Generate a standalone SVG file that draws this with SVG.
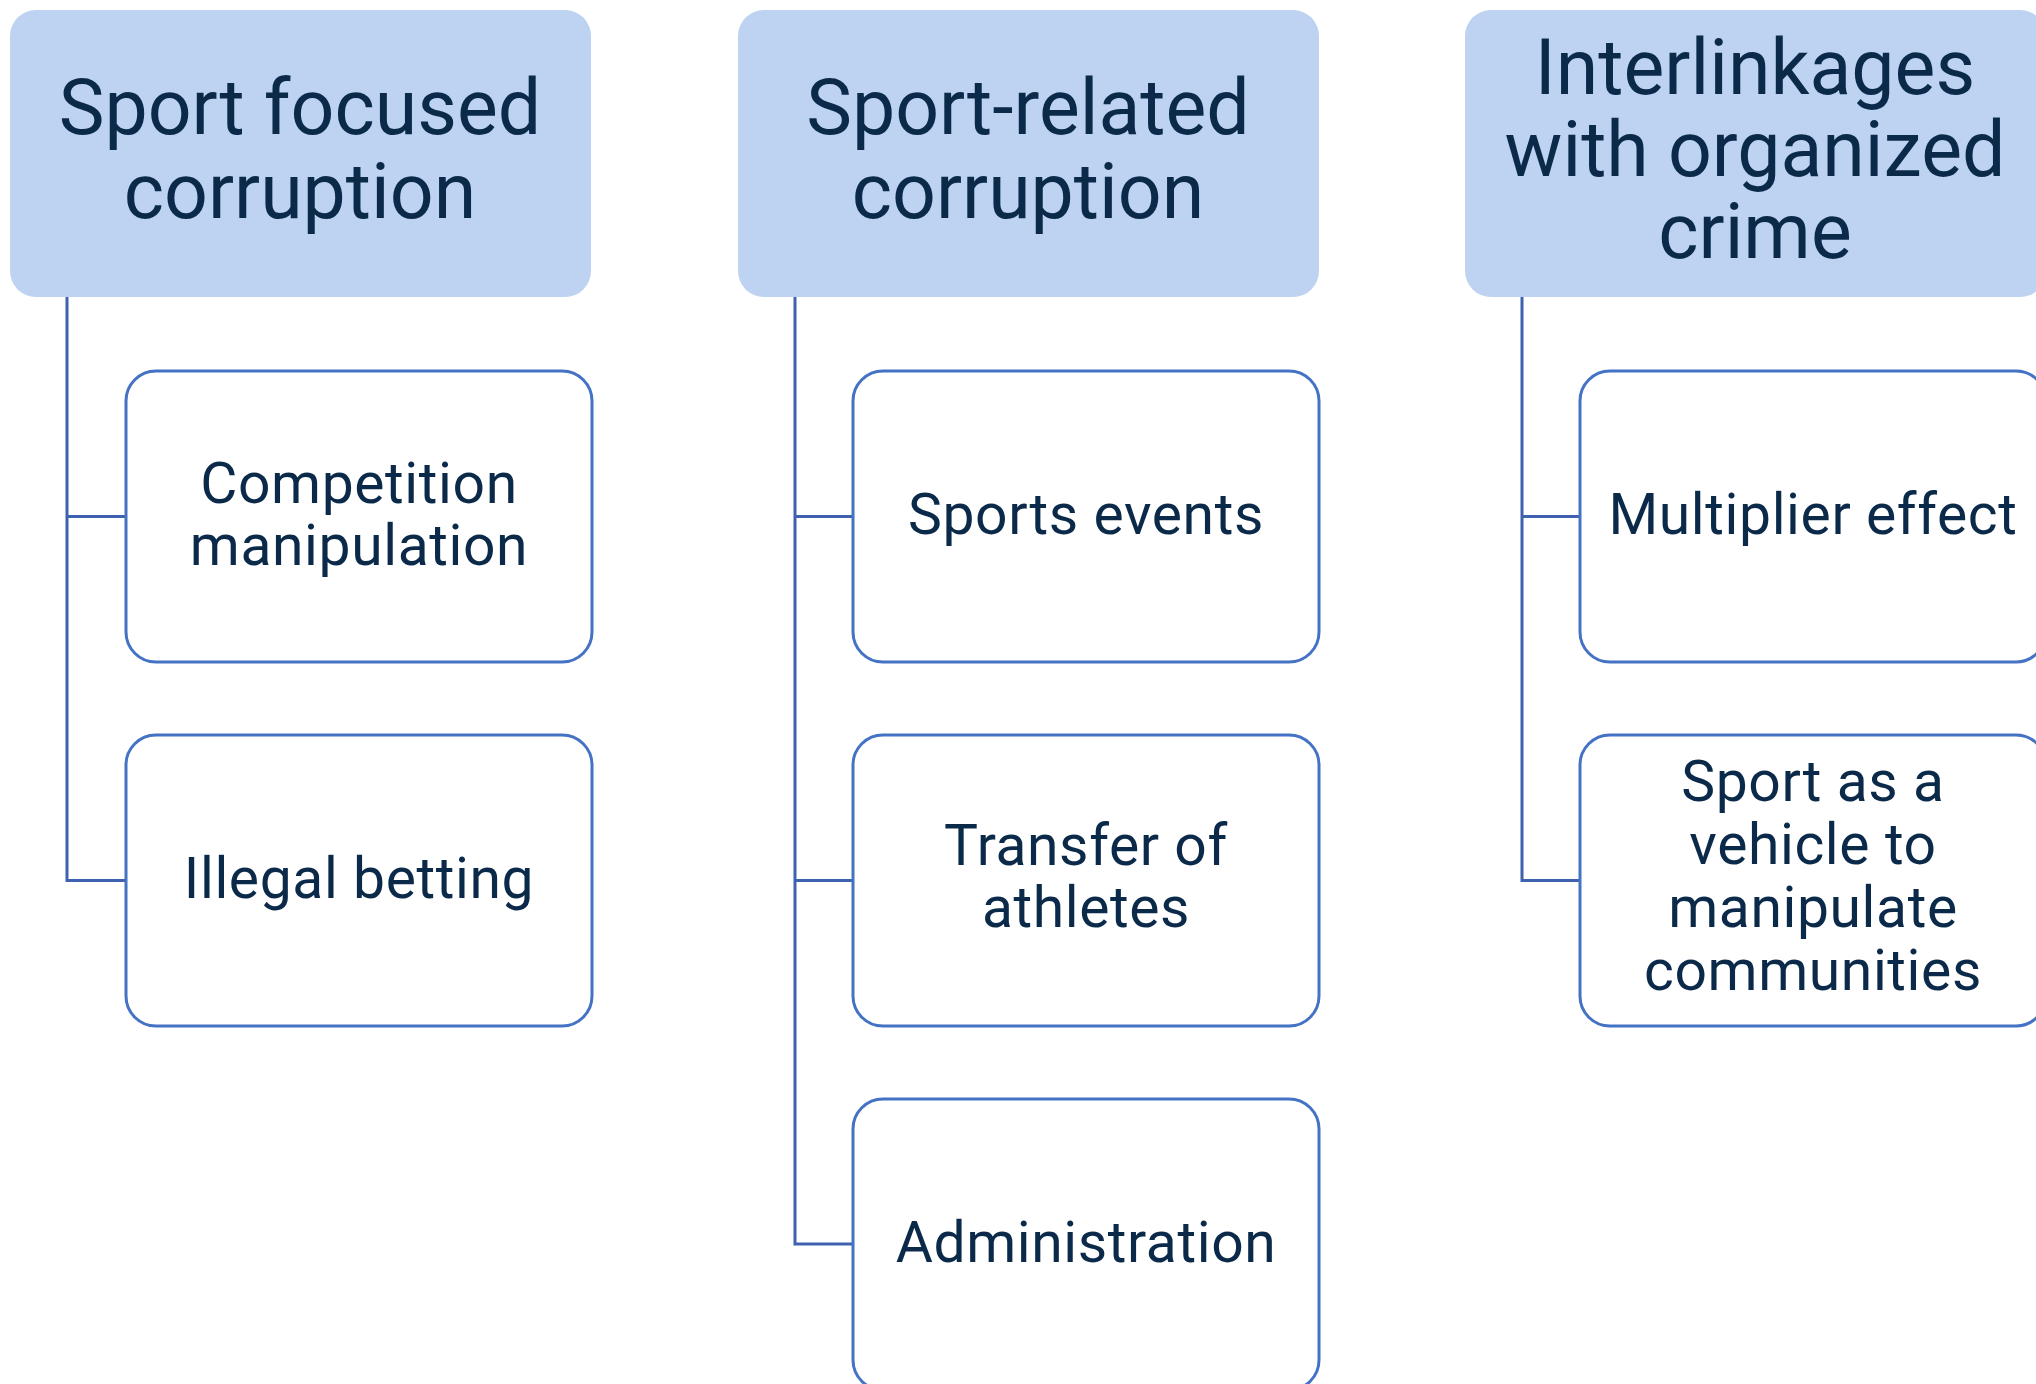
<svg xmlns="http://www.w3.org/2000/svg" width="2036" height="1384" viewBox="0 0 2036 1384">
<style>
.hdr{fill:#BDD3F1;stroke:none}
.box{fill:#FFFFFF;stroke:#4472C4;stroke-width:3}
.conn{fill:none;stroke:#3F62B0;stroke-width:3}
.ht{font-family:Roboto,"Liberation Sans",sans-serif;font-size:77px;fill:#0B2A4A;text-anchor:middle}
.ct{font-family:Roboto,"Liberation Sans",sans-serif;font-size:57px;fill:#0B2A4A;text-anchor:middle;letter-spacing:0.6px}
</style>
<rect width="2036" height="1384" fill="#FFFFFF"/>
<g id="connectors">
<path class="conn" d="M67 297 V880.5 H126 M67 516.5 H126"/>
<path class="conn" d="M795 297 V1244 H853 M795 516.5 H853 M795 880.5 H853"/>
<path class="conn" d="M1522 297 V880.5 H1580 M1522 516.5 H1580"/>
</g>
<g id="h1"><rect class="hdr" x="10" y="10" width="581" height="287" rx="26"/>
<text class="ht" x="300" y="134">Sport focused</text><text class="ht" x="300" y="218">corruption</text></g>
<g id="h2"><rect class="hdr" x="738" y="10" width="581" height="287" rx="26"/>
<text class="ht" x="1028" y="134">Sport-related</text><text class="ht" x="1028" y="218">corruption</text></g>
<g id="h3"><rect class="hdr" x="1465" y="10" width="581" height="287" rx="26"/>
<text class="ht" x="1755" y="94">Interlinkages</text><text class="ht" x="1755" y="176">with organized</text><text class="ht" x="1755" y="258">crime</text></g>
<g id="c1a"><rect class="box" x="126" y="371" width="466" height="291" rx="30"/>
<text class="ct" x="359" y="503">Competition</text><text class="ct" x="359" y="565">manipulation</text></g>
<g id="c1b"><rect class="box" x="126" y="735" width="466" height="291" rx="30"/>
<text class="ct" x="359" y="898">Illegal betting</text></g>
<g id="c2a"><rect class="box" x="853" y="371" width="466" height="291" rx="30"/>
<text class="ct" x="1086" y="534">Sports events</text></g>
<g id="c2b"><rect class="box" x="853" y="735" width="466" height="291" rx="30"/>
<text class="ct" x="1086" y="865">Transfer of</text><text class="ct" x="1086" y="927">athletes</text></g>
<g id="c2c"><rect class="box" x="853" y="1099" width="466" height="291" rx="30"/>
<text class="ct" x="1086" y="1262">Administration</text></g>
<g id="c3a"><rect class="box" x="1580" y="371" width="466" height="291" rx="30"/>
<text class="ct" x="1813" y="534">Multiplier effect</text></g>
<g id="c3b"><rect class="box" x="1580" y="735" width="466" height="291" rx="30"/>
<text class="ct" x="1813" y="801">Sport as a</text><text class="ct" x="1813" y="864">vehicle to</text><text class="ct" x="1813" y="927">manipulate</text><text class="ct" x="1813" y="990">communities</text></g>
</svg>
